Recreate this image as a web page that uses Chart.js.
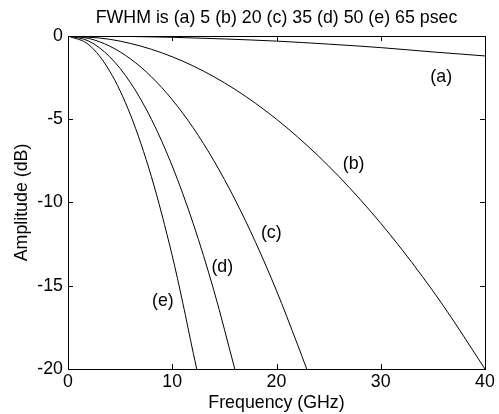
<!DOCTYPE html>
<html>
<head>
<meta charset="utf-8">
<script src="https://cdn.jsdelivr.net/npm/chart.js@4/dist/chart.umd.min.js"></script>
<style>
  html, body { margin: 0; padding: 0; background: #fff; }
  #wrap { width: 499px; height: 414px; }
</style>
</head>
<body>
<div id="wrap"><canvas id="fwhmChart" width="499" height="414"></canvas></div>
<script>
// Spectrum amplitude (dB) of Gaussian pulses of different FWHM
const freqA = [0, 5, 10, 15, 20, 25, 30, 35, 40];
const ampA = [0, -0.02, -0.08, -0.18, -0.31, -0.49, -0.70, -0.96, -1.2];

const freqB = [0, 4, 8, 12, 16, 20, 24, 28, 32, 36, 40];
const ampB = [0, -0.2, -0.8, -1.8, -3.2, -5.0, -7.2, -9.8, -12.8, -16.2, -20];

const freqC = [0, 2, 4, 6, 8, 10, 12, 14, 16, 18, 20, 22, 22.9];
const ampC = [0, -0.15, -0.61, -1.38, -2.45, -3.83, -5.51, -7.5, -9.8, -12.4, -15.3, -18.5, -20];

const freqD = [0, 2, 4, 6, 8, 10, 12, 14, 16];
const ampD = [0, -0.31, -1.25, -2.81, -5.0, -7.81, -11.25, -15.3, -20];

const freqE = [0, 2, 4, 6, 8, 10, 11, 12, 12.35];
const ampE = [0, -0.53, -2.11, -4.75, -8.45, -13.2, -16.0, -19.0, -20];

const curveNames = ["(a)", "(b)", "(c)", "(d)", "(e)"];
const labelFreq = [35.8, 27.4, 19.5, 14.8, 9.1];
const labelAmp = [-2.46, -7.69, -11.83, -13.87, -15.9];

const xTicks = [0, 10, 20, 30, 40];
const yTicks = [0, -5, -10, -15, -20];

const FONT = "'Liberation Sans', Arial, Helvetica, sans-serif";
const FS = 17.8;

function toPoints(xs, ys) {
  return xs.map(function (x, i) { return { x: x, y: ys[i] }; });
}

const series = [
  [freqA, ampA], [freqB, ampB], [freqC, ampC], [freqD, ampD], [freqE, ampE]
];

// box, inward ticks and curve labels, drawn the way MATLAB axes look
const matlabAxes = {
  id: "matlabAxes",
  afterDatasetsDraw: function (chart) {
    const ctx = chart.ctx;
    const a = chart.chartArea;
    const xs = chart.scales.x;
    const ys = chart.scales.y;
    const len = 5;
    ctx.save();
    ctx.strokeStyle = "#000";
    ctx.lineWidth = 1;
    ctx.strokeRect(Math.round(a.left) + 0.5, Math.round(a.top) + 0.5,
      Math.round(a.right - a.left), Math.round(a.bottom - a.top));
    ctx.beginPath();
    xTicks.forEach(function (v) {
      const px = Math.round(xs.getPixelForValue(v)) + 0.5;
      ctx.moveTo(px, a.bottom); ctx.lineTo(px, a.bottom - len);
      ctx.moveTo(px, a.top); ctx.lineTo(px, a.top + len);
    });
    yTicks.forEach(function (v) {
      const py = Math.round(ys.getPixelForValue(v)) + 0.5;
      ctx.moveTo(a.left, py); ctx.lineTo(a.left + len, py);
      ctx.moveTo(a.right, py); ctx.lineTo(a.right - len, py);
    });
    ctx.stroke();

    ctx.fillStyle = "#000";
    ctx.font = FS + "px " + FONT;
    ctx.textAlign = "center";
    ctx.textBaseline = "middle";
    curveNames.forEach(function (name, i) {
      ctx.fillText(name, xs.getPixelForValue(labelFreq[i]), ys.getPixelForValue(labelAmp[i]));
    });
    ctx.restore();
  }
};

const ctx = document.getElementById("fwhmChart").getContext("2d");

new Chart(ctx, {
  type: "line",
  data: {
    datasets: series.map(function (s, i) {
      return {
        label: curveNames[i],
        data: toPoints(s[0], s[1]),
        borderColor: "#000",
        borderWidth: 1,
        pointRadius: 0,
        cubicInterpolationMode: "monotone",
        fill: false
      };
    })
  },
  options: {
    responsive: false,
    animation: false,
    layout: { padding: { left: 0, right: 14, top: 0, bottom: 0 } },
    plugins: {
      legend: { display: false },
      tooltip: { enabled: false },
      title: {
        display: true,
        fullSize: false,
        text: "FWHM is (a) 5 (b) 20 (c) 35 (d) 50 (e) 65 psec",
        color: "#000",
        font: { family: FONT, size: FS, weight: "normal" },
        padding: { top: 7, bottom: 7.6 }
      }
    },
    scales: {
      x: {
        type: "linear",
        min: 0,
        max: 40,
        afterBuildTicks: function (scale) {
          scale.ticks = xTicks.map(function (v) { return { value: v }; });
        },
        afterFit: function (scale) { scale.height = 45; },
        grid: { display: false, drawTicks: false },
        border: { display: false },
        ticks: {
          color: "#000",
          padding: 2,
          font: { family: FONT, size: FS },
          maxRotation: 0
        },
        title: {
          display: true,
          text: "Frequency (GHz)",
          color: "#000",
          padding: { top: 0, bottom: 0 },
          font: { family: FONT, size: FS }
        }
      },
      y: {
        type: "linear",
        min: -20,
        max: 0,
        afterBuildTicks: function (scale) {
          scale.ticks = yTicks.map(function (v) { return { value: v }; });
        },
        afterFit: function (scale) { scale.width = 68; },
        grid: { display: false, drawTicks: false },
        border: { display: false },
        ticks: {
          color: "#000",
          padding: 5,
          font: { family: FONT, size: FS }
        },
        title: {
          display: true,
          text: "Amplitude (dB)",
          color: "#000",
          padding: { top: 11, bottom: 0 },
          font: { family: FONT, size: FS }
        }
      }
    }
  },
  plugins: [matlabAxes]
});
</script>
</body>
</html>
